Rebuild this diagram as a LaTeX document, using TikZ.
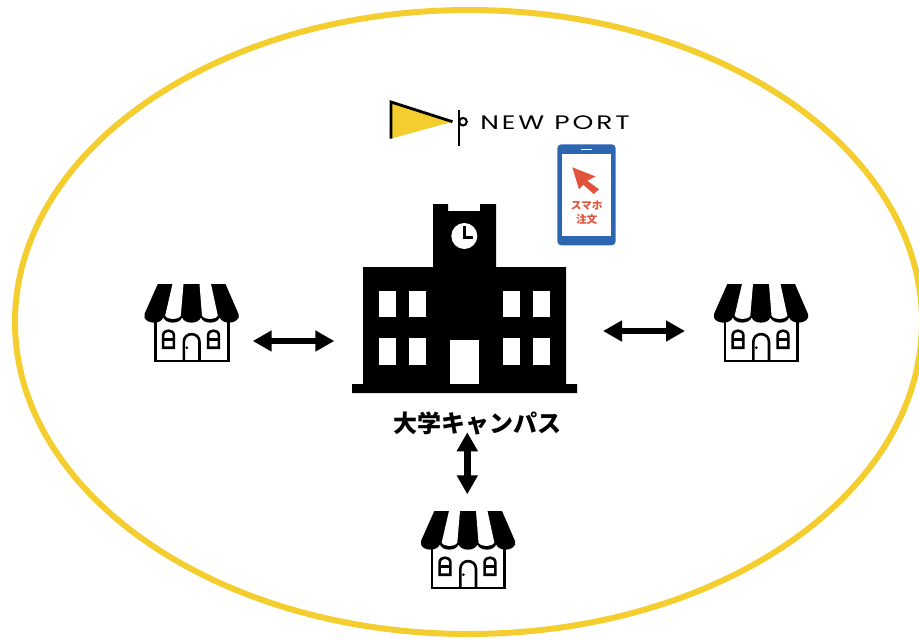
\documentclass[tikz,border=0pt]{standalone}
\usepackage{fontspec}
\newfontfamily\cjk{Noto Sans CJK JP}
\newfontfamily\logofont[LetterSpace=15,FakeStretch=1.36]{Poppins}
\usetikzlibrary{arrows.meta}
\definecolor{ringyellow}{HTML}{F4CE2F}
\definecolor{phoneblue}{HTML}{2C66B0}
\definecolor{cursorred}{HTML}{E1533D}
\tikzset{
  biarrow/.style={{Triangle[length=19pt,width=20pt]}-{Triangle[length=19pt,width=20pt]}, line width=6.4pt, black},
  shop/.pic={
    \fill[black] (-33.7,0) -- (34,0) -- (47,30) -- (47,34) -- (-47,34) -- (-47,30) -- cycle;
    \foreach \k in {0,...,4}
      \fill[black] (-47+18.8*\k,33) .. controls (-45.5+18.8*\k,40.5) and (-29.7+18.8*\k,40.5) .. (-28.2+18.8*\k,33) -- cycle;
    \fill[white] (-19,0) -- (-8,0) -- (-10.7,31.5) .. controls (-12.5,36) and (-24.5,36) .. (-26.3,31.5) -- cycle;
    \fill[white] (19.5,0) -- (8,0) -- (10.5,31.5) .. controls (12.3,36) and (24.5,36) .. (26.3,31.5) -- cycle;
    \draw[line width=2.8pt] (-36,37) -- (-36,77) -- (36.6,77) -- (36.6,37);
    \draw[line width=2.6pt] (-28.4,63.7) -- (-28.4,51.5) .. controls (-28.4,45) and (-17.6,45) .. (-17.6,51.5) -- (-17.6,63.7) -- cycle;
    \draw[line width=2.6pt] (-28.4,55.7) -- (-17.6,55.7);
    \draw[line width=2.6pt] (16.6,63.7) -- (16.6,51.5) .. controls (16.6,45) and (27.4,45) .. (27.4,51.5) -- (27.4,63.7) -- cycle;
    \draw[line width=2.6pt] (16.6,55.7) -- (27.4,55.7);
    \draw[line width=2.6pt] (-7.7,77) -- (-7.7,58) .. controls (-7.7,47.5) and (8,47.5) .. (8,58) -- (8,77);
    \fill[black] (-4.7,63.7) circle (1.5);
  }
}

\begin{document}
\begin{tikzpicture}[x=1pt,y=-1pt]
\useasboundingbox (0,0) rectangle (919,638);
\draw[ringyellow, line width=6pt] (468.5,322) ellipse [x radius=453.5, y radius=312];

% logo
\fill[ringyellow] (391,102) -- (452.5,121.7) -- (391,138.7) -- cycle;
\draw[line width=2.8pt] (391,138.7) -- (391,102) -- (452.5,121.7);
\draw[line width=2.4pt] (459,110) -- (459,145.7);
\draw[line width=2pt] (463,121.7) circle (3.8);
\node[inner sep=0pt] (logotext) at (555,122.5) {\logofont\fontsize{19.5}{20}\selectfont NEW PORT};

% phone
\fill[phoneblue, rounded corners=4pt] (557.3,144.3) rectangle (615.7,245.3);
\fill[white] (562.3,154) rectangle (610.7,235.7);
\fill[white] (581,148.5) rectangle (592,150.2);
\fill[cursorred] (572.3,167.3) -- (595.5,176.5) -- (587.3,180.7) -- (599,189.3) -- (593.7,194) -- (583.3,184.7) -- (579,189.3) -- cycle;
\node[cursorred, inner sep=0pt] (phoneline1) at (586.7,205.5) {\cjk\bfseries\fontsize{10.7}{11}\selectfont スマホ};
\node[cursorred, inner sep=0pt] (phoneline2) at (586.7,219.3) {\cjk\bfseries\fontsize{10.7}{11}\selectfont 注文};

% campus
\fill[black] (352,384) -- (363,384) -- (363,267) -- (433,267) -- (433,204) -- (448,204) -- (448,211) -- (480,211) -- (480,204) -- (496,204) -- (496,267) -- (566,267) -- (566,384) -- (577,384) -- (577,393) -- (352,393) -- cycle;
\foreach \wx in {379.3,409.3,503.3,533.3}
  \foreach \wy in {291,338.3}
    \fill[white] (\wx,\wy) rectangle ++(16.2,26.2);
\fill[white] (450,340.3) rectangle (479,384);
\fill[white] (464.3,236) circle (13);
\draw[line width=2.7pt] (464.3,225.7) -- (464.3,237.3) -- (472.7,237.3);
\node[inner sep=0pt] (campuslabel) at (477,423) {\cjk\bfseries\fontsize{24}{24}\selectfont 大学キャンパス};

% shops
\pic at (191.5,284) {shop};
\pic at (761,284) {shop};
\pic at (468,511) {shop};

\coordinate (leftshop) at (252.7,341);
\coordinate (campusleft) at (334.3,341);
\coordinate (campusright) at (603,331);
\coordinate (rightshop) at (685,331);
\coordinate (campusbelow) at (467.3,432.3);
\coordinate (bottomshop) at (467.3,494.3);
\draw[biarrow] (leftshop) -- (campusleft);
\draw[biarrow] (campusright) -- (rightshop);
\draw[biarrow] (campusbelow) -- (bottomshop);
\end{tikzpicture}
\end{document}
